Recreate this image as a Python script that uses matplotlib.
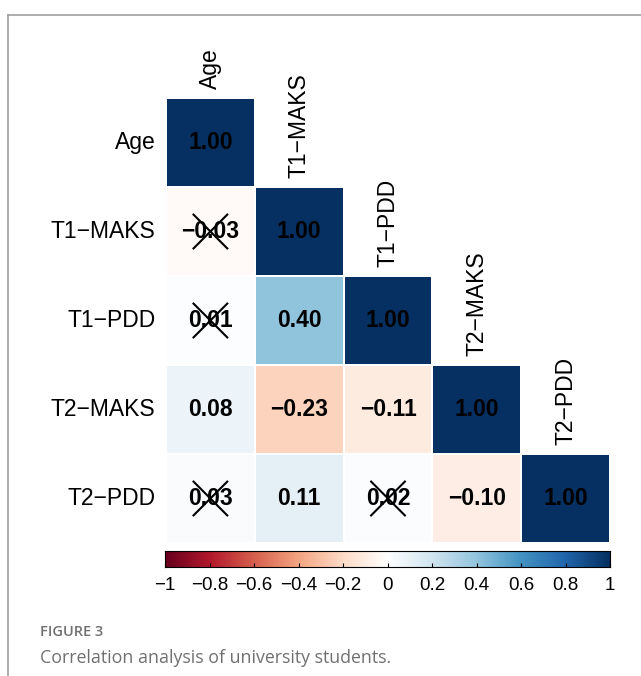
import matplotlib.pyplot as plt
import numpy as np
from matplotlib.colors import Normalize, LinearSegmentedColormap

# variables and lower-triangle correlations (row, col order)
names = ["Age", "T1\u2212MAKS", "T1\u2212PDD", "T2\u2212MAKS", "T2\u2212PDD"]
corr = np.array([
    [1.00, 0.00, 0.00, 0.00, 0.00],
    [-0.03, 1.00, 0.00, 0.00, 0.00],
    [0.01, 0.40, 1.00, 0.00, 0.00],
    [0.08, -0.23, -0.11, 1.00, 0.00],
    [0.03, 0.11, 0.02, -0.10, 1.00],
])
# non-significant pairs get crossed out
insig = [(1, 0), (2, 0), (4, 0), (4, 2)]
cbar_ticks = [-1, -0.8, -0.6, -0.4, -0.2, 0, 0.2, 0.4, 0.6, 0.8, 1]

W, H = 641, 676
fig = plt.figure(figsize=(W / 100, H / 100), dpi=100)
plt.rcParams['font.family'] = ['Liberation Sans', 'DejaVu Sans']


def px_axes(x0, y0, x1, y1):
    return fig.add_axes([x0 / W, 1 - y1 / H, (x1 - x0) / W, (y1 - y0) / H])


# frame lines of the figure panel
fig.add_artist(plt.Line2D([8 / W, 1], [1 - 15 / H, 1 - 15 / H], color="#a0a0a0", lw=1.2))
fig.add_artist(plt.Line2D([8 / W, 8 / W], [0, 1 - 15 / H], color="#a0a0a0", lw=1.2))

# red-white-blue palette with a pure white midpoint
cmap = LinearSegmentedColormap.from_list("rdbu_white", [
    "#67001F", "#B2182B", "#D6604D", "#F4A582", "#FDDBC7", "#FFFFFF",
    "#D1E5F0", "#92C5DE", "#4393C3", "#2166AC", "#053061"])
norm = Normalize(-1, 1)
n = len(names)

ax = px_axes(166, 98, 610, 543)
mask = np.triu(np.ones((n, n), dtype=bool), k=1)
ax.pcolormesh(np.ma.masked_array(corr, mask), cmap=cmap, norm=norm,
              edgecolor="white", linewidth=0.2)
ax.set_xlim(0, n)
ax.set_ylim(n, 0)
ax.axis("off")

for i in range(n):
    for j in range(i + 1):
        ax.text(j + 0.5, i + 0.5, f"{corr[i, j]:.2f}".replace("-", "\u2212"),
                ha="center", va="center", fontsize=16.5, fontweight="bold")
    # row labels on the left, column labels above the diagonal
    ax.text(-0.12, i + 0.5, names[i], ha="right", va="center", fontsize=16.5)
    ax.text(i + 0.5, i - 0.1, names[i], ha="center", va="bottom",
            rotation=90, fontsize=16.5)

for i, j in insig:
    d = 0.19
    ax.plot([j + 0.5 - d, j + 0.5 + d], [i + 0.5 - d, i + 0.5 + d], color="black", lw=1.5)
    ax.plot([j + 0.5 - d, j + 0.5 + d], [i + 0.5 + d, i + 0.5 - d], color="black", lw=1.5)

# colour legend along the bottom
cax = px_axes(165, 551, 610, 567)
grad = np.linspace(-1, 1, 256).reshape(1, -1)
cax.imshow(grad, cmap=cmap, norm=norm, aspect="auto", extent=[-1, 1, 0, 1])
cax.set_yticks([])
cax.set_xticks(cbar_ticks)
cax.set_xticklabels([f"{t:g}".replace("-", "\u2212") for t in cbar_ticks], fontsize=13.5)
cax.tick_params(axis="x", direction="in", length=3, pad=7)
for s in cax.spines.values():
    s.set_linewidth(0.8)

fig.text(40 / W, 1 - 632 / H, "FIGURE 3", fontsize=10.5, color="#707070",
         family=["Open Sans", "DejaVu Sans"], va="center", fontweight="semibold")
fig.text(40 / W, 1 - 658 / H, "Correlation analysis of university students.", fontsize=12.8,
         color="#707070", family=["Open Sans", "DejaVu Sans"], va="center")

fig.savefig("out.png", dpi=100)
